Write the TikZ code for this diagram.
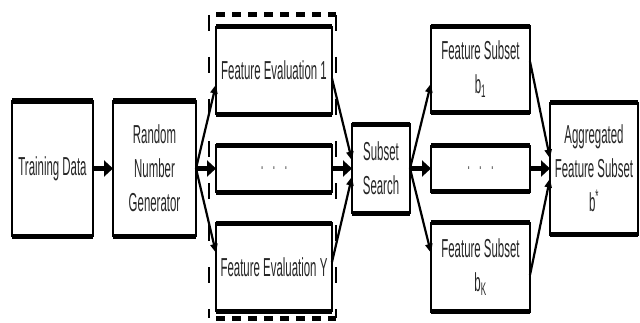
\documentclass[tikz,border=0pt]{standalone}
\usepackage{fontspec}
\newfontfamily\narrowsf[FakeStretch=0.44]{Liberation Sans}
\usetikzlibrary{arrows.meta,positioning}

\begin{document}
\begin{tikzpicture}[x=1pt,y=1pt,
  myblock/.style={draw,line width=2pt,inner sep=0pt,outer sep=0pt,align=center,text=black!85,font=\narrowsf\fontsize{26}{34}\selectfont},
  myarrow/.style={line width=2.2pt,-{Triangle[length=9pt,width=7pt]}},
  myarrowh/.style={line width=4.5pt,-{Triangle[length=9pt,width=16pt]}},
 ]
\useasboundingbox (0,0) rectangle (640,322);

\node[myblock,minimum width=81pt,minimum height=135pt] (TD) at (52.5,153.5) {Training Data};
\node[myblock,minimum width=83pt,minimum height=135pt,right=20pt of TD] (RNG) {Random\\Number\\Generator};

\node[myblock,minimum width=116pt,minimum height=47pt,right=20pt of RNG,text=black!60] (FEM) {.\,\,.\,\,.};
\node[myblock,minimum width=116pt,minimum height=87pt,above=31pt of FEM] (FE1) {Feature Evaluation 1};
\node[myblock,minimum width=116pt,minimum height=88pt,below=31pt of FEM] (FEY) {Feature Evaluation Y};

\node[myblock,minimum width=58pt,minimum height=89pt,right=20pt of FEM] (SS) {Subset\\Search};

\node[myblock,minimum width=99pt,minimum height=46pt,right=21pt of SS,text=black!60] (BM) {.\,\,.\,\,.};
\node[myblock,minimum width=99pt,minimum height=86pt,above=33pt of BM] (B1) {Feature Subset\\b\textsubscript{1}};
\node[myblock,minimum width=99pt,minimum height=89pt,below=31pt of BM] (BK) {Feature Subset\\b\textsubscript{K}};

\node[myblock,minimum width=88pt,minimum height=132pt,right=20pt of BM] (AG) {Aggregated\\Feature Subset\\b\textsuperscript{*}};

% heavy top and bottom edges
\foreach \n in {TD,RNG,FE1,FEM,FEY,SS,B1,BM,BK,AG}
  \draw[line width=5pt] (\n.north west) -- (\n.north east) (\n.south west) -- (\n.south east);

% dashed frame round the evaluations
\coordinate (DNW) at ([shift={(-7pt,12pt)}]FE1.north west);
\coordinate (DSE) at ([shift={(4pt,-7pt)}]FEY.south east);
\draw[line width=2pt,dash pattern=on 16pt off 26pt] (DNW) -- (DNW|-DSE) (DSE|-DNW) -- (DSE);
\draw[line width=5pt,dash pattern=on 9pt off 7pt,dash phase=-7pt] (DNW) -- (DSE|-DNW) (DNW|-DSE) -- (DSE);

\draw[myarrowh] (TD) -- (RNG);
\draw[myarrow] (RNG.east) -- ([yshift=-14pt]FE1.west);
\draw[myarrowh] (RNG) -- (FEM);
\draw[myarrow] (RNG.east) -- ([yshift=14pt]FEY.west);

\draw[myarrow] ([yshift=-8pt]FE1.east) -- ([yshift=8pt]SS.west);
\draw[myarrowh] (FEM) -- (SS);
\draw[myarrow] ([yshift=5pt]FEY.east) -- ([yshift=-8pt]SS.west);

\draw[myarrow] (SS.east) -- ([yshift=-14pt]B1.west);
\draw[myarrowh] (SS) -- (BM);
\draw[myarrow] (SS.east) -- ([yshift=14pt]BK.west);

\draw[myarrow] ([yshift=8pt]B1.east) -- ([yshift=10pt]AG.west);
\draw[myarrowh] (BM) -- (AG);
\draw[myarrow] ([yshift=-8pt]BK.east) -- ([yshift=-10pt]AG.west);

\end{tikzpicture}
\end{document}
